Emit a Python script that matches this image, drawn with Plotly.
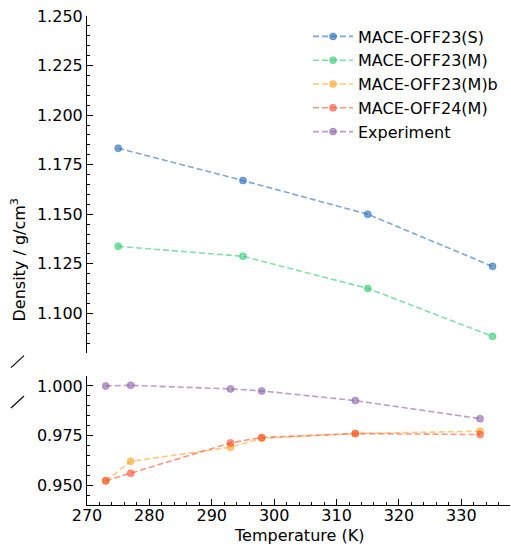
import plotly.graph_objects as go

# Temperatures (K) and densities (g/cm^3)
temp_high = [275, 295, 315, 335]
mace23_s = [1.1833, 1.167, 1.150, 1.1237]
mace23_m = [1.1338, 1.1288, 1.1126, 1.0884]

temp_low = [273, 277, 293, 298, 313, 333]
mace23_mb = [0.9522, 0.962, 0.9691, 0.9736, 0.976, 0.9772]
mace24_m = [0.9522, 0.956, 0.9713, 0.974, 0.976, 0.9755]
experiment = [1.000, 1.0003, 0.9985, 0.9975, 0.9926, 0.9835]

x_ticks = [270, 280, 290, 300, 310, 320, 330]

W, H = 511, 545
ML, MR, MT, MB = 87, 1, 16, 40
PW, PH = W - ML - MR, H - MT - MB

def py(y_px):
    return (H - MB - y_px) / PH

def px(x_px):
    return (x_px - ML) / PW

FONT = "DejaVu Sans"
FS = 16

series = [
    ("MACE-OFF23(S)", temp_high, mace23_s, (36, 108, 186), "y2", "x2"),
    ("MACE-OFF23(M)", temp_high, mace23_m, (46, 204, 113), "y2", "x2"),
    ("MACE-OFF23(M)b", temp_low, mace23_mb, (255, 165, 40), "y", "x"),
    ("MACE-OFF24(M)", temp_low, mace24_m, (255, 80, 45), "y", "x"),
    ("Experiment", temp_low, experiment, (140, 95, 170), "y", "x"),
]

fig = go.Figure()
for i, (name, xs, ys, (r, g, b), yax, xax) in enumerate(series):
    fig.add_trace(go.Scatter(
        x=xs, y=ys, name=name, mode="lines+markers",
        xaxis=xax, yaxis=yax, legendgroup=f"g{i}",
        line=dict(color=f"rgba({r},{g},{b},0.6)", width=1.6, dash="6px,3px"),
        marker=dict(size=7, color=f"rgba({r},{g},{b},0.62)",
                    line=dict(width=1, color=f"rgba({r},{g},{b},0.45)")),
    ))

axis_common = dict(
    showline=True, linecolor="black", linewidth=1.1,
    ticks="inside", ticklen=6, tickwidth=1, tickcolor="black",
    showgrid=False, zeroline=False,
    tickfont=dict(family=FONT, size=FS, color="black"),
)

top_lo, bot_hi = py(353), py(376)

fig.update_layout(
    width=W, height=H,
    margin=dict(l=ML, r=MR, t=MT, b=MB),
    plot_bgcolor="white", paper_bgcolor="white",
    font=dict(family=FONT, size=FS, color="black"),
    showlegend=True,
    legend=dict(
        x=px(308), y=py(19.5), xanchor="left", yanchor="top",
        bgcolor="rgba(0,0,0,0)", tracegroupgap=0, itemwidth=40,
        font=dict(family=FONT, size=FS, color="black"),
    ),
    xaxis=dict(
        **axis_common, domain=[0, 1], range=[270, 337.8], anchor="y",
        tickvals=x_ticks, ticklabelstandoff=-4,
        minor=dict(dtick=2, tick0=270, ticks="inside", ticklen=3,
                   tickcolor="black", tickwidth=1),
    ),
    yaxis=dict(
        **axis_common, domain=[0, bot_hi], range=[0.94, 1.005], anchor="x",
        dtick=0.025, tick0=0, tickformat=".3f",
        minor=dict(dtick=0.005, tick0=0, ticks="inside", ticklen=3,
                   tickcolor="black", tickwidth=1),
    ),
    xaxis2=dict(matches="x", anchor="y2", visible=False, domain=[0, 1]),
    yaxis2=dict(
        **axis_common, domain=[top_lo, 1], range=[1.08, 1.25], anchor="x2",
        dtick=0.025, tick0=0, tickformat=".3f",
        minor=dict(dtick=0.005, tick0=0, ticks="inside", ticklen=3,
                   tickcolor="black", tickwidth=1),
    ),
)

# x-axis title
fig.add_annotation(
    text="Temperature (K)", xref="paper", yref="paper",
    x=0.5, y=py(535.5), xanchor="center", yanchor="middle", showarrow=False,
    borderpad=0, font=dict(family=FONT, size=FS, color="black"),
)

# y-axis title centred on both panels
fig.add_annotation(
    text="Density / g/cm<sup>3</sup>", textangle=-90,
    xref="paper", yref="paper", x=px(18.5), y=py(260),
    xanchor="center", yanchor="middle", showarrow=False,
    font=dict(family=FONT, size=FS, color="black"),
)

# axis-break markers
for y0, y1 in [(367.7, 355.7), (408, 396)]:
    fig.add_shape(type="line", xref="paper", yref="paper",
                  x0=px(11), y0=py(y0), x1=px(24), y1=py(y1),
                  line=dict(color="black", width=1.1))

fig.write_html("out.html")
